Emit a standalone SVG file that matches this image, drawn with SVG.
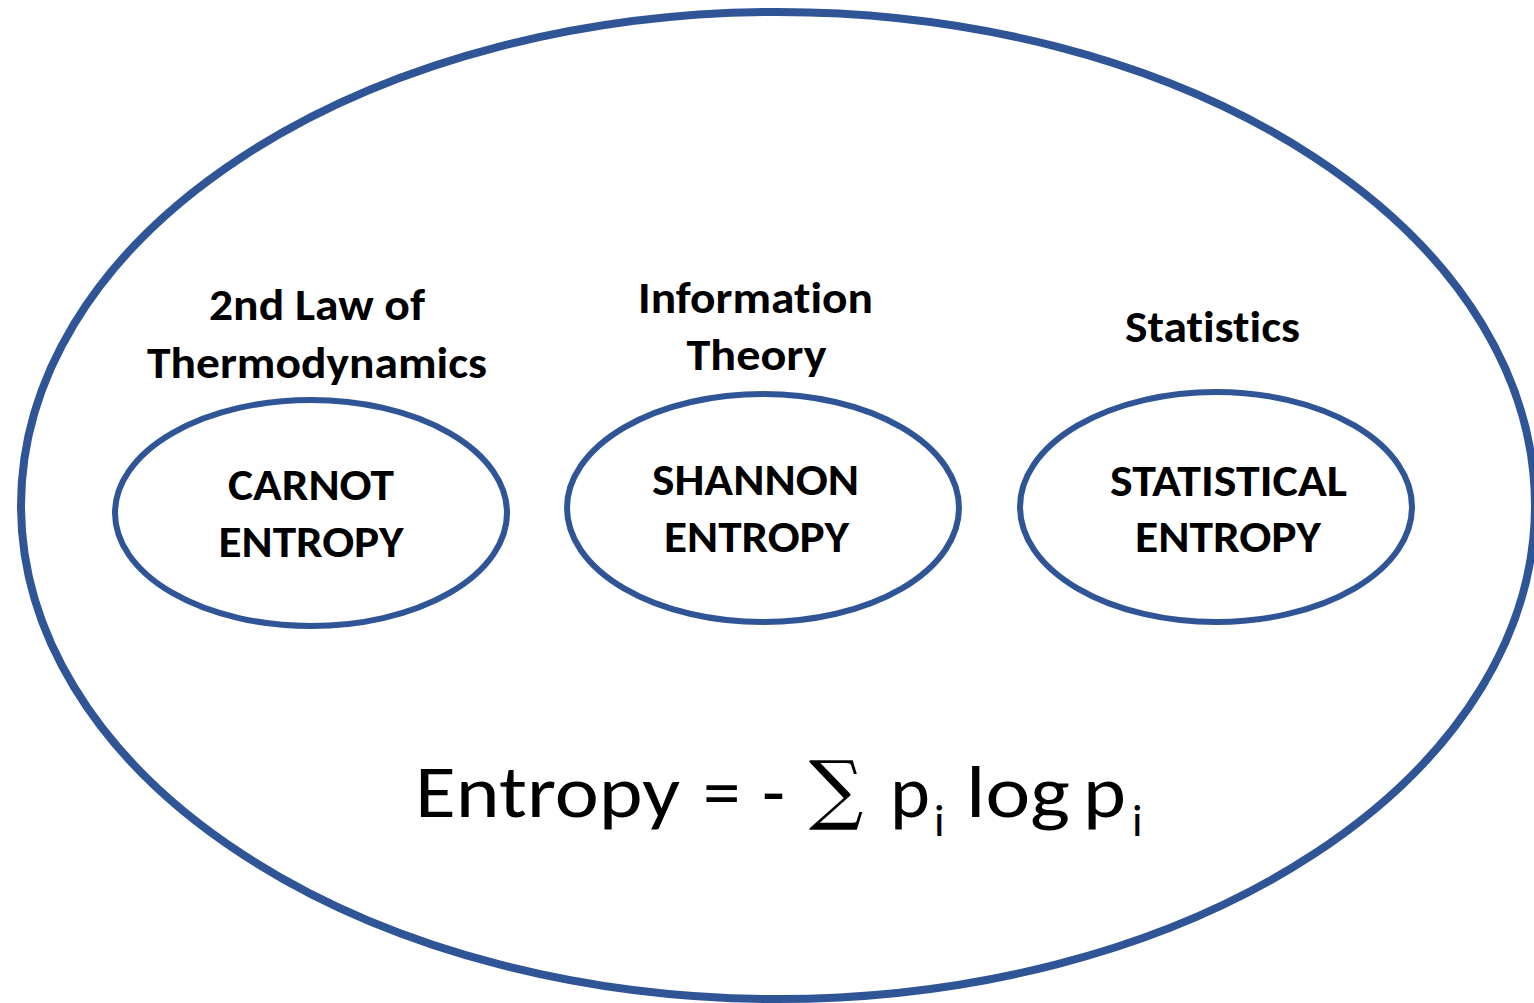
<svg xmlns="http://www.w3.org/2000/svg" width="1534" height="1003" viewBox="0 0 1534 1003">
<style>
text{font-variant-ligatures:none;font-feature-settings:"liga" 0,"clig" 0}
.ring{fill:none;stroke:#2F5597}
.outer{stroke-width:8}
.inner{stroke-width:6}
.lbl{font-family:Carlito,Lato,"Liberation Sans",sans-serif;font-weight:bold;font-size:44px;fill:#000;text-anchor:middle}
.f{font-family:Carlito,Lato,"Liberation Sans",sans-serif;font-size:75px;fill:#000}
.sub{font-family:Carlito,Lato,"Liberation Sans",sans-serif;font-size:46px;fill:#000}
.sig{font-family:"DejaVu Serif","DejaVu Sans",serif;font-size:76px;fill:#000}
</style>
<rect width="1534" height="1003" fill="#fff"/>
<g id="universe">
<ellipse class="ring outer" cx="778" cy="505.5" rx="757" ry="493.5"/>
</g>
<g id="carnot">
<ellipse class="ring inner" cx="311" cy="513" rx="196" ry="113"/>
<text class="lbl" x="311" y="500" textLength="166" lengthAdjust="spacingAndGlyphs">CARNOT</text>
<text class="lbl" x="311" y="557" textLength="185" lengthAdjust="spacingAndGlyphs">ENTROPY</text>
</g>
<g id="shannon">
<ellipse class="ring inner" cx="763" cy="508" rx="196" ry="114"/>
<text class="lbl" x="755.5" y="495" textLength="207" lengthAdjust="spacingAndGlyphs">SHANNON</text>
<text class="lbl" x="756.5" y="552" textLength="185" lengthAdjust="spacingAndGlyphs">ENTROPY</text>
</g>
<g id="statistical">
<ellipse class="ring inner" cx="1216" cy="507" rx="196" ry="115"/>
<text class="lbl" x="1228.5" y="496" textLength="237" lengthAdjust="spacingAndGlyphs">STATISTICAL</text>
<text class="lbl" x="1228" y="552" textLength="186" lengthAdjust="spacingAndGlyphs">ENTROPY</text>
</g>
<g id="label-thermo">
<text class="lbl" x="317" y="320" textLength="216" lengthAdjust="spacingAndGlyphs">2nd Law of</text>
<text class="lbl" x="317" y="378" textLength="340" lengthAdjust="spacingAndGlyphs">Thermodynamics</text>
</g>
<g id="label-info">
<text class="lbl" x="755.5" y="313" textLength="235" lengthAdjust="spacingAndGlyphs">Information</text>
<text class="lbl" x="756.5" y="370" textLength="140" lengthAdjust="spacingAndGlyphs">Theory</text>
</g>
<g id="label-stats">
<text class="lbl" x="1212.5" y="342" textLength="175" lengthAdjust="spacingAndGlyphs">Statistics</text>
</g>
<g id="formula">
<text class="f" x="415" y="817" textLength="265" lengthAdjust="spacingAndGlyphs">Entropy</text>
<text class="f" x="703" y="817">=</text>
<text class="f" x="762" y="817">-</text>
<text class="sig" x="809" y="815">∑</text>
<text class="f" x="890" y="817" textLength="40" lengthAdjust="spacingAndGlyphs">p</text>
<text class="sub" x="934" y="836">i</text>
<text class="f" x="966" y="817" textLength="104" lengthAdjust="spacingAndGlyphs">log</text>
<text class="f" x="1083" y="817" textLength="43" lengthAdjust="spacingAndGlyphs">p</text>
<text class="sub" x="1132" y="836">i</text>
</g>
<g id="connectors"></g>
</svg>
